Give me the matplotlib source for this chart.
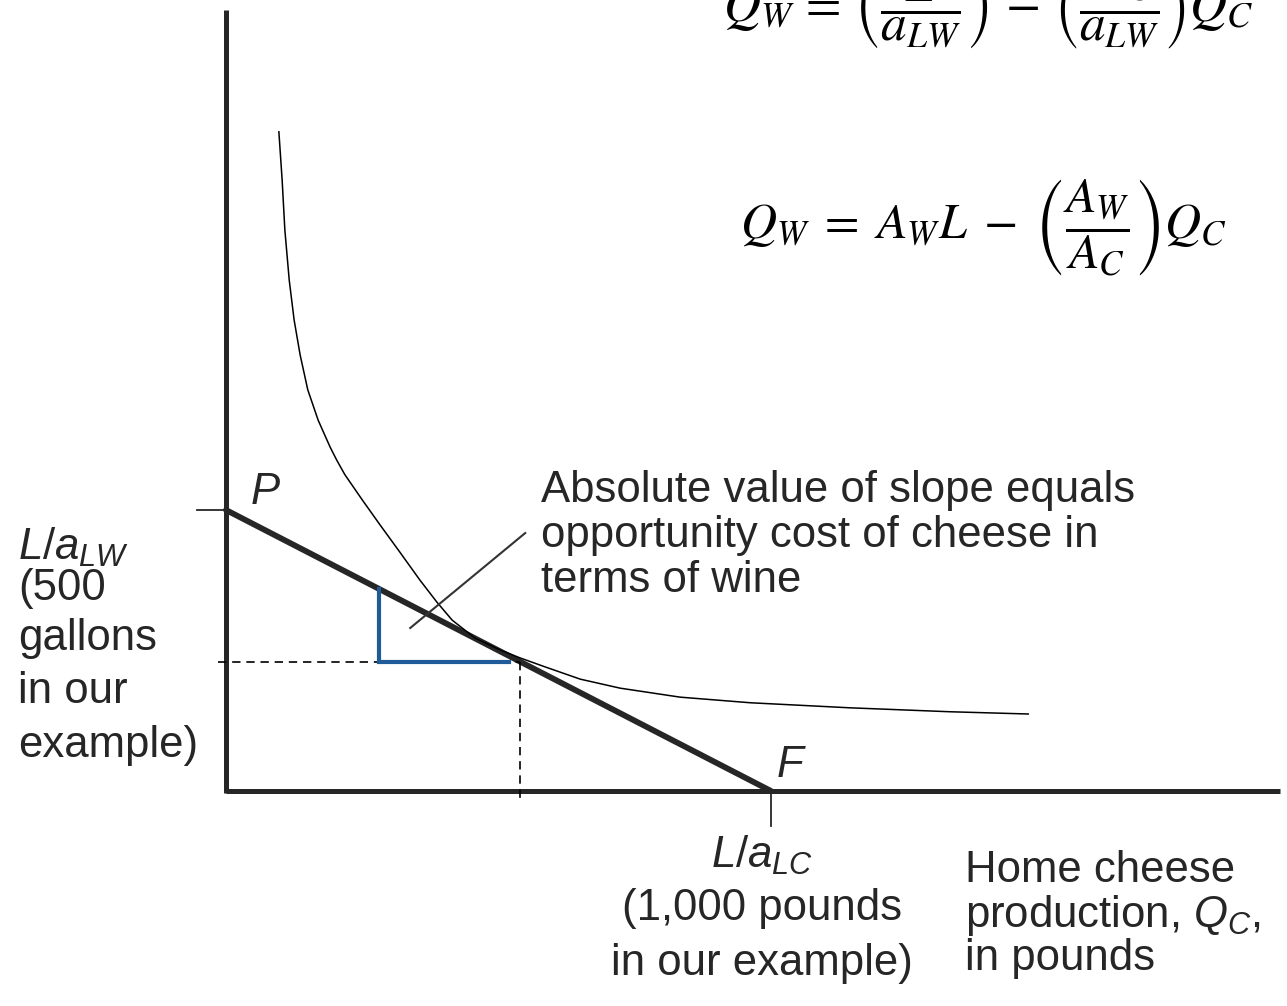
import numpy as np
import matplotlib.pyplot as plt

plt.rcParams['font.family'] = ['Liberation Sans', 'DejaVu Sans']
plt.rcParams['mathtext.fontset'] = 'custom'
plt.rcParams['mathtext.rm'] = 'Liberation Sans'
plt.rcParams['mathtext.it'] = 'Liberation Sans:italic'

# production possibility frontier: intercepts in gallons / pounds
wine_max = 500      # L/a_LW
cheese_max = 1000   # L/a_LC
tangent_qc = 540    # production point on the frontier

# indifference curve (pounds of cheese, gallons of wine)
indiff_qc = [97, 103, 108, 116, 125, 136, 150, 169, 191, 203, 218, 250, 283,
             319, 356, 387, 415, 457, 503, 539, 585, 650, 723, 833, 962,
             1145, 1328, 1472]
indiff_qw = [1173, 1087, 998, 909, 838, 776, 714, 660, 612, 589, 563, 518,
             473, 425, 375, 336, 304, 272, 251, 237, 221, 199, 183, 167,
             157, 148, 141, 137]

slope = wine_max / cheese_max
tangent_qw = wine_max - slope * tangent_qc
tri_qc = 281
tri_qw = wine_max - slope * tri_qc

fig = plt.figure(figsize=(12.87, 10.06), dpi=100)
ax = fig.add_axes([0, 0, 1, 1])
ax.set_xlim(-414.7, 1946.8)
ax.set_ylim(-382.6, 1407.5)
ax.axis('off')

axis_col = '#262626'
# axes
ax.plot([0, 0], [-4, 1390], color=axis_col, lw=3.6, solid_capstyle='butt')
ax.plot([0, 1934], [0, 0], color=axis_col, lw=3.6, solid_capstyle='butt')
# intercept ticks
ax.plot([-53, 0], [wine_max, wine_max], color=axis_col, lw=1.3)
ax.plot([cheese_max, cheese_max], [0, -62], color=axis_col, lw=1.3)

# frontier
ax.plot([0, cheese_max], [wine_max, 0], color=axis_col, lw=4.2,
        solid_capstyle='round')

# dashed guides to the production point
ax.plot([-15, tangent_qc], [tangent_qw, tangent_qw], color='black', lw=1.2,
        ls=(0, (5, 3.5)))
ax.plot([tangent_qc, tangent_qc], [tangent_qw, -16], color='black', lw=1.2,
        ls=(0, (5, 3.5)))

# slope triangle
ax.plot([tri_qc, tri_qc, tangent_qc - 20], [tri_qw, tangent_qw, tangent_qw],
        color='#1f5b98', lw=3.0, solid_joinstyle='miter')

# indifference curve
ax.plot(indiff_qc, indiff_qw, color='black', lw=1.1,
        solid_joinstyle='round')

# pointer for the slope note
ax.plot([338, 549], [290, 459], color='#333333', lw=1.5)

txt = dict(color='#262626', fontsize=31.5)
ax.text(72, 532, 'P', fontstyle='italic', ha='center', va='center', **txt)
ax.text(1035, 46, 'F', fontstyle='italic', ha='center', va='center', **txt)

for s, y in zip(['Absolute value of slope equals',
                 'opportunity cost of cheese in',
                 'terms of wine'], [514, 434, 354]):
    ax.text(578, y, s, ha='left', va='baseline', **txt)

for s, y in zip([r'$L/a_{LW}$', '(500', 'gallons', 'in our', 'example)'],
                [411, 340, 251, 157, 60]):
    ax.text(-382, y, s, ha='left', va='baseline', **txt)

for s, y in zip([r'$L/a_{LC}$', '(1,000 pounds', 'in our example)'],
                [-137, -229, -327]):
    ax.text(984, y, s, ha='center', va='baseline', **txt)

for s, y in zip(['Home cheese', r'production, $Q_C$,', 'in pounds'],
                [-162, -242, -318]):
    ax.text(1356, y, s, ha='left', va='baseline', **txt)

# equations
ax.text(912, 1370,
        r'$Q_W\,=\,\left(\dfrac{L}{a_{LW}}\right)\,-\,\left(\dfrac{a_{LC}}{a_{LW}}\right)Q_C$',
        ha='left', va='baseline', fontsize=37, math_fontfamily='stix',
        color='black')
ax.text(943, 1002,
        r'$Q_W\;=\;A_W L\;-\;\left(\dfrac{A_W}{A_C}\right)Q_C$',
        ha='left', va='center', fontsize=36, math_fontfamily='stix',
        color='black')

fig.savefig('out.png', dpi=100)
